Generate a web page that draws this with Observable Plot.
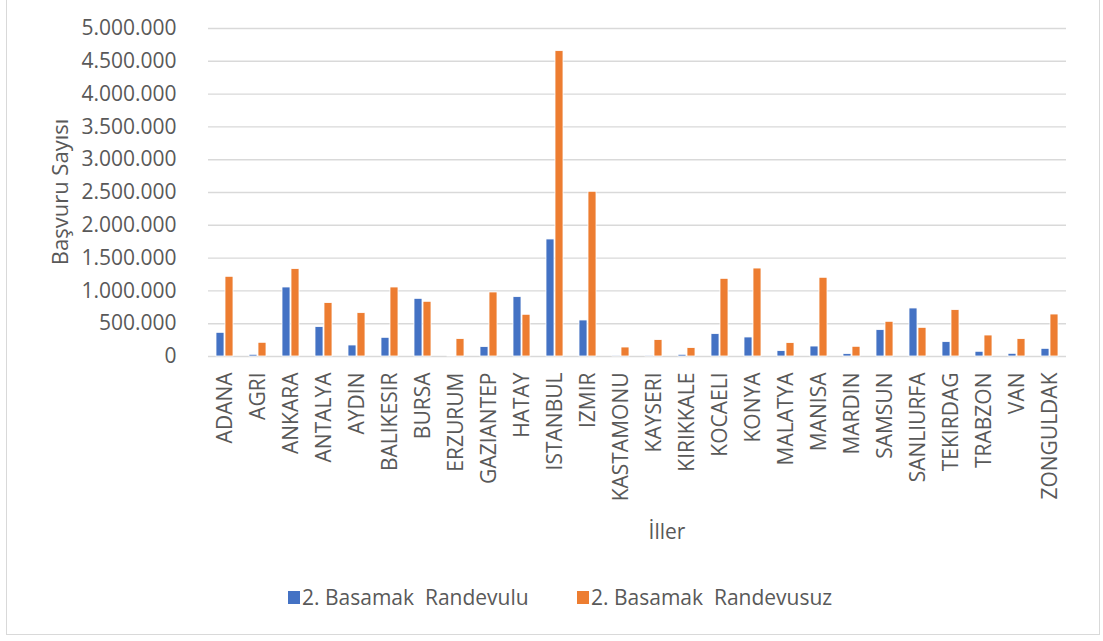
<!DOCTYPE html>
<html>
<head>
<meta charset="utf-8">
<script src="https://cdn.jsdelivr.net/npm/d3@7"></script>
<script src="https://cdn.jsdelivr.net/npm/@observablehq/plot@0.6"></script>
<style>
  html, body { margin: 0; padding: 0; background: #ffffff; }
  body { width: 1103px; height: 641px; position: relative; overflow: hidden; font-family: "Open Sans", sans-serif; color: #595959; }
  #frame { position: absolute; left: 6px; top: -2px; width: 1094px; height: 637px; border: 1.5px solid #d9d9d9; box-sizing: border-box; }
  #chart { position: absolute; left: 0; top: 0; }
  .ytitle { position: absolute; left: 59px; top: 192px; transform: translate(-50%, -50%) rotate(-90deg); font-size: 22px; white-space: nowrap; }
  .xtitle { position: absolute; left: 667px; top: 531px; transform: translate(-50%, -50%); font-size: 21px; white-space: nowrap; }
  .legend { position: absolute; top: 583px; font-size: 21px; white-space: pre; display: flex; align-items: center; }
  .legend .sw { width: 12px; height: 13px; margin-right: 2px; display: inline-block; }
</style>
</head>
<body>
<div id="frame"></div>
<div id="chart"></div>
<div class="ytitle">Başvuru Sayısı</div>
<div class="xtitle">İller</div>
<div id="legend"></div>
<script>
const cities = ["ADANA","AGRI","ANKARA","ANTALYA","AYDIN","BALIKESIR","BURSA","ERZURUM","GAZIANTEP","HATAY","ISTANBUL","IZMIR","KASTAMONU","KAYSERI","KIRIKKALE","KOCAELI","KONYA","MALATYA","MANISA","MARDIN","SAMSUN","SANLIURFA","TEKIRDAG","TRABZON","VAN","ZONGULDAK"];
const randevulu = [361000, 26000, 1052000, 448000, 168000, 285000, 879000, 10000, 143000, 905000, 1784000, 549000, 5000, 4000, 26000, 341000, 290000, 82000, 152000, 36000, 402000, 732000, 219000, 72000, 41000, 117000];
const randevusuz = [1215000, 209000, 1332000, 814000, 661000, 1052000, 834000, 265000, 976000, 636000, 4655000, 2511000, 137000, 250000, 128000, 1184000, 1341000, 204000, 1200000, 148000, 529000, 437000, 707000, 320000, 265000, 640000];
const seriesNames = ["2. Basamak  Randevulu", "2. Basamak  Randevusuz"];
const seriesColors = ["#4472C4", "#ED7D31"];
const yTicks = [0, 500000, 1000000, 1500000, 2000000, 2500000, 3000000, 3500000, 4000000, 4500000, 5000000];

const rows = [];
cities.forEach((c, i) => {
  rows.push({city: c, series: seriesNames[0], value: randevulu[i]});
  rows.push({city: c, series: seriesNames[1], value: randevusuz[i]});
});

const fmt = d3.formatLocale({decimal: ",", thousands: ".", grouping: [3], currency: ["", ""]}).format(",d");

const chart = Plot.plot({
  width: 1103,
  height: 560,
  marginLeft: 200,
  marginRight: 30,
  marginTop: 28,
  marginBottom: 204,
  style: {fontFamily: "'Open Sans', sans-serif", fontSize: "21px", color: "#595959", background: "transparent", overflow: "visible"},
  fx: {domain: cities, padding: 0, label: null},
  x: {domain: seriesNames, axis: null, paddingInner: 0.14, paddingOuter: 0.9},
  y: {domain: [0, 5000000], axis: null},
  color: {domain: seriesNames, range: seriesColors},
  marks: [
    Plot.ruleY(yTicks, {stroke: "#d9d9d9", strokeWidth: 1.4}),
    Plot.axisY(yTicks, {tickSize: 0, tickPadding: 32, tickFormat: fmt, label: null, fill: "#595959", fontSize: 21}),
    Plot.axisFx({anchor: "bottom", tickRotate: -90, tickSize: 0, tickPadding: 16, label: null, fill: "#595959", fontSize: 21}),
    Plot.barY(rows, {fx: "city", x: "series", y: "value", fill: "series", stroke: "#ffffff", strokeWidth: 0.8})
  ]
});
document.getElementById("chart").appendChild(chart);

const legend = document.getElementById("legend");
const legendLefts = [288, 577];
seriesNames.forEach((s, i) => {
  const item = document.createElement("div");
  item.className = "legend";
  item.style.left = legendLefts[i] + "px";
  const sw = document.createElement("span");
  sw.className = "sw";
  sw.style.background = seriesColors[i];
  item.appendChild(sw);
  const t = document.createElement("span");
  t.textContent = s;
  item.appendChild(t);
  legend.appendChild(item);
});
</script>
</body>
</html>
